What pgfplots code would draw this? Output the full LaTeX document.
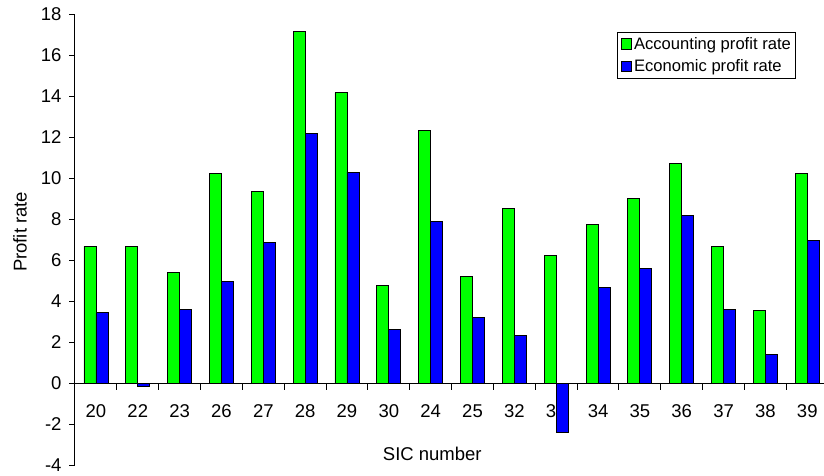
\documentclass[border=0pt]{standalone}
\usepackage{pgfplots}
\pgfplotsset{compat=1.18}
\usepackage{fontspec}
\setmainfont{Liberation Sans}
\definecolor{accgreen}{RGB}{0,255,0}
\definecolor{ecoblue}{RGB}{0,0,255}
\pgfplotsset{mylegend/.style={legend image code/.code={\draw[##1,draw=black,line width=0.8pt] (0pt,-5.3pt) rectangle (10.7pt,5.3pt);}}}
\begin{document}
\begin{tikzpicture}
\begin{axis}[
  scale only axis, width=749pt, height=451pt,
  xmin=-0.5, xmax=17.4, ymin=-4, ymax=18,
  axis y line*=left, axis x line*=middle,
  axis line style={-, draw=black, line width=1pt},
  tick style={draw=black, line width=1pt},
  tick align=outside, major tick length=6pt,
  ybar=0pt, bar width=12pt,
  ytick={-4,-2,...,18},
  yticklabels={-4,-2,0,2,4,6,8,10,12,14,16,18},
  yticklabel style={xshift=-4pt},
  xtick={0,...,17},
  xticklabels={20,22,23,26,27,28,29,30,24,25,32,33,34,35,36,37,38,39},
  every major x tick/.append style={draw=none},
  xticklabel style={yshift=-12pt},
  tick label style={font=\fontsize{18.5}{22}\selectfont},
  xlabel={SIC number}, ylabel={Profit rate},
  label style={font=\fontsize{18.5}{22}\selectfont},
  xlabel style={at={(axis description cs:0.477,0.024)}, anchor=center},
  ylabel style={at={(axis description cs:-0.0734,0.517)}, anchor=center},
  legend style={at={(axis description cs:0.963,0.961)}, anchor=north east, draw=black, line width=0.8pt,
    font=\fontsize{16.6}{20}\selectfont, legend cell align=left, row sep=5pt, inner sep=3pt},
  clip=false,
]
\addplot[fill=accgreen, draw=black, line width=0.8pt, mylegend] coordinates {
(0,6.67) (1,6.66) (2,5.40) (3,10.22) (4,9.33) (5,17.14) (6,14.16) (7,4.77) (8,12.30)
(9,5.19) (10,8.51) (11,6.24) (12,7.75) (13,9.00) (14,10.69) (15,6.67) (16,3.53) (17,10.21)};
\addplot[fill=ecoblue, draw=black, line width=0.8pt, mylegend] coordinates {
(0,3.42) (1,-0.16) (2,3.58) (3,4.95) (4,6.85) (5,12.18) (6,10.29) (7,2.62) (8,7.86)
(9,3.19) (10,2.30) (11,-2.42) (12,4.67) (13,5.57) (14,8.17) (15,3.58) (16,1.39) (17,6.97)};
\legend{Accounting profit rate, Economic profit rate}
\pgfplotsinvokeforeach{-0.5,0.5,1.5,2.5,3.5,4.5,5.5,6.5,7.5,8.5,9.5,10.5,11.5,12.5,13.5,14.5,15.5,16.5}{
  \draw[black, line width=1pt] (axis cs:#1,0) -- ++(0pt,-6.5pt);
}
\end{axis}
\pgfresetboundingbox
\path[use as bounding box] (-75pt,-10pt) rectangle (749pt,465pt);
\end{tikzpicture}
\end{document}
